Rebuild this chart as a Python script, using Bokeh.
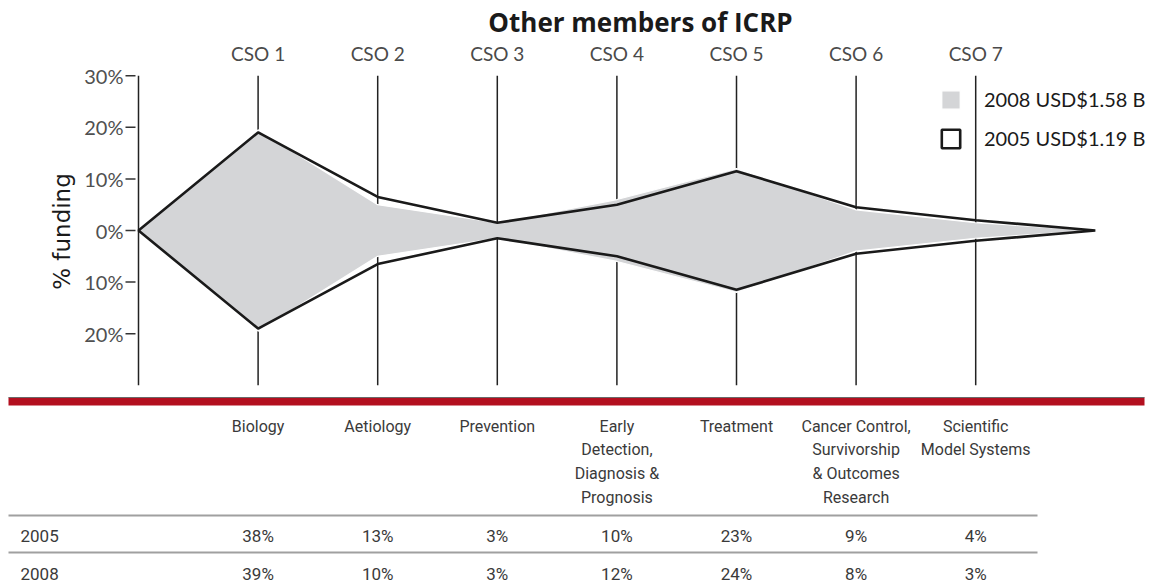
import math
from bokeh.plotting import figure
from bokeh.models import Range1d, Legend, LegendItem, ColumnDataSource
from bokeh.core.properties import value
from bokeh.embed import file_html
from bokeh.resources import INLINE

# ---- data ----
title = "Other members of ICRP"
codes = ["CSO 1", "CSO 2", "CSO 3", "CSO 4", "CSO 5", "CSO 6", "CSO 7"]
names = ["Biology", "Aetiology", "Prevention",
         "Early\nDetection,\nDiagnosis &\nPrognosis", "Treatment",
         "Cancer Control,\nSurvivorship\n& Outcomes\nResearch",
         "Scientific\nModel Systems"]
years = ["2005", "2008"]
v2005 = [38, 13, 3, 10, 23, 9, 4]
v2008 = [39, 10, 3, 12, 24, 8, 3]
y_ticks = [30, 20, 10, 0, -10, -20]
y_tick_labels = ["30%", "20%", "10%", "0%", "10%", "20%"]
legend_2008 = "2008 USD$1.58 B"
legend_2005 = "2005 USD$1.19 B"

n = len(codes)
xpos = list(range(1, n + 1))


def shape(vals):
    xs = [0] + xpos + [n + 1] + xpos[::-1]
    ys = [0] + [v / 2 for v in vals] + [0] + [-v / 2 for v in vals[::-1]]
    return xs, ys


# ---- layout helpers (page pixel -> data) ----
PX_X = 119.6   # px per category step
PX_Y = 5.16    # px per percent
X0_PX = 138    # page x of category index 0
Y0_PX = 230    # page y of 0 %
W, H = 1154, 586


def X(px):
    return (px - X0_PX) / PX_X


def Y(py):
    return (Y0_PX - py) / PX_Y


p = figure(width=W, height=H, output_backend="svg", toolbar_location=None,
           x_range=Range1d(X(0), X(W)), y_range=Range1d(Y(H), Y(0)),
           min_border=0)
p.axis.visible = False
p.grid.visible = False
p.outline_line_color = None

# title
p.text(x=[X(640)], y=[Y(21)], text=[title], text_align="center",
       text_baseline="middle", text_font=value("Open Sans"),
       text_font_size="26px", text_font_style="bold", text_color="#1a1a1a")

# category codes on top
p.text(x=xpos, y=[Y(53)] * n, text=codes, text_align="center",
       text_baseline="middle", text_font=value("Lato"), text_font_size="19px",
       text_color="#4a4a4a")

# y axis ticks and labels
p.segment(x0=[X(125)] * len(y_ticks), y0=y_ticks, x1=[X(135)] * len(y_ticks),
          y1=y_ticks, line_color="#333333", line_width=1.5)
p.text(x=[X(123)] * len(y_ticks), y=y_ticks, text=y_tick_labels,
       text_align="right", text_baseline="middle", text_font=value("Lato"),
       text_font_size="20px", text_color="#505050")
p.text(x=[X(61)], y=[Y(231)], text=["% funding"], angle=math.pi / 2,
       text_align="center", text_baseline="middle",
       text_font=value("DejaVu Sans"), text_font_size="23px",
       text_color="#1a1a1a")

# vertical guide lines
gx = [0] + xpos
p.segment(x0=gx, y0=[-30] * len(gx), x1=gx, y1=[30] * len(gx),
          line_color="#222222", line_width=1.5)

xs8, ys8 = shape(v2008)
xs5, ys5 = shape(v2005)
r8 = p.patch(xs8, ys8, fill_color="#d4d5d7", line_color="white", line_width=1.2)
r5 = p.patch(xs5, ys5, fill_alpha=0, line_color="#1a1a1a", line_width=2.6)

leg = Legend(items=[LegendItem(label=legend_2008, renderers=[r8]),
                    LegendItem(label=legend_2005, renderers=[r5])],
             location=(939, 436), padding=0, margin=0, spacing=15,
             glyph_width=23, glyph_height=23, label_height=23,
             label_standoff=22, border_line_color=None,
             background_fill_alpha=0,
             label_text_font="Lato", label_text_font_size="20px",
             label_text_color="#1a1a1a")
p.add_layout(leg)

# ---- table ----
p.quad(left=[X(8)], right=[X(1144)], top=[Y(397)], bottom=[Y(405)],
       fill_color="#b30f1f", line_color=None)
p.segment(x0=[X(8)], y0=[Y(397)], x1=[X(1144)], y1=[Y(397)],
          line_color="#6a6a6a", line_width=1)

p.segment(x0=[X(8)] * 2, y0=[Y(515), Y(552)], x1=[X(1037)] * 2,
          y1=[Y(515), Y(552)], line_color="#a0a0a0", line_width=1.8)

tf = value("Roboto")
p.text(x=xpos, y=[Y(416)] * n, text=names, text_align="center",
       text_baseline="top", text_font_size="16px", text_font=tf,
       text_color="#3a3a3a", text_line_height=1.25)

rows = ColumnDataSource(dict(
    x=xpos + xpos,
    y=[Y(535)] * n + [Y(573)] * n,
    t=[f"{v}%" for v in v2005] + [f"{v}%" for v in v2008]))
p.text(x="x", y="y", text="t", source=rows, text_align="center",
       text_baseline="middle", text_font_size="17px", text_font=tf,
       text_color="#3a3a3a")
p.text(x=[X(20)] * 2, y=[Y(535), Y(573)], text=years,
       text_align="left", text_baseline="middle", text_font_size="17px",
       text_font=tf, text_color="#3a3a3a")

open("out.html", "w").write(file_html(p, INLINE))
